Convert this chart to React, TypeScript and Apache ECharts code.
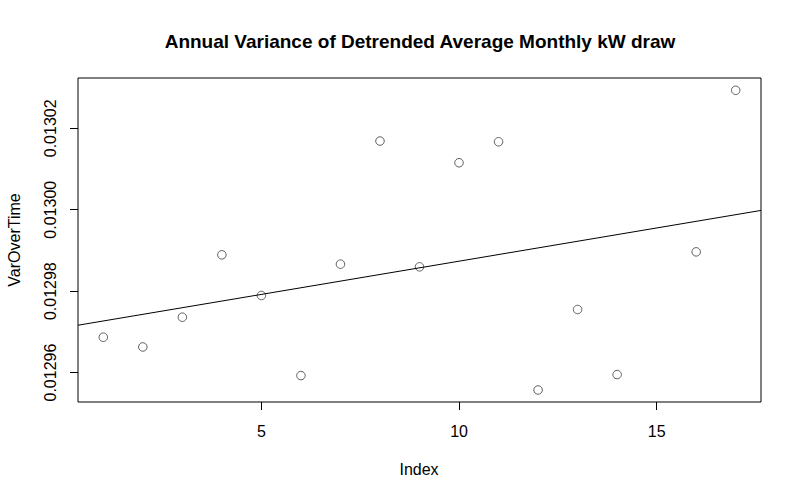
import React, { useEffect, useRef } from "react";
import * as echarts from "echarts";

const indexValues: number[] = [1, 2, 3, 4, 5, 6, 7, 8, 9, 10, 11, 12, 13, 14, 15, 16, 17];
const varOverTime: (number | null)[] = [
  0.01296868, 0.01296629, 0.0129736, 0.01298892, 0.01297893, 0.01295926,
  0.01298663, 0.01301687, 0.01298597, 0.01301154, 0.0130167, 0.01295572,
  0.01297549, 0.01295951, null, 0.01298965, 0.01302934,
];
const xTicks: number[] = [5, 10, 15];
const yTicks: number[] = [0.01296, 0.01298, 0.013, 0.01302];
const fitIntercept = 0.01297104;
const fitSlope = 1.632e-6;
const xRange: number[] = [0.36, 17.64];
const yRange: number[] = [0.01295277, 0.01303236];

const FONT = "Liberation Sans, Arial, Helvetica, sans-serif";

export default function App() {
  const ref = useRef<HTMLDivElement>(null);
  useEffect(() => {
    if (!ref.current) return;
    const chart = echarts.init(ref.current, undefined, { renderer: "svg" });
    const points = indexValues
      .map((x, i) => [x, varOverTime[i]])
      .filter((p) => p[1] !== null);
    const fit = xRange.map((x) => [x, fitIntercept + fitSlope * x]);
    chart.setOption({
      animation: false,
      backgroundColor: "#ffffff",
      grid: {
        left: 78,
        right: 39,
        top: 78,
        bottom: 98,
        show: true,
        borderColor: "#000",
        borderWidth: 1,
        backgroundColor: "transparent",
      },
      xAxis: {
        type: "value",
        min: xRange[0],
        max: xRange[1],
        axisLine: { show: false },
        splitLine: { show: false },
        axisTick: {
          show: true,
          customValues: xTicks,
          length: 8,
          lineStyle: { color: "#000" },
        },
        axisLabel: {
          customValues: xTicks,
          color: "#000",
          fontSize: 16,
          fontFamily: FONT,
          margin: 21,
        },
      },
      yAxis: {
        type: "value",
        min: yRange[0],
        max: yRange[1],
        axisLine: { show: false },
        splitLine: { show: false },
        axisTick: {
          show: true,
          customValues: yTicks,
          length: 8,
          lineStyle: { color: "#000" },
        },
        axisLabel: {
          customValues: yTicks,
          rotate: 90,
          color: "#000",
          fontSize: 16,
          fontFamily: FONT,
          margin: 20,
          formatter: (v: number) => v.toFixed(5),
        },
      },
      graphic: [
        {
          type: "text",
          x: 420,
          y: 41,
          style: {
            text: "Annual Variance of Detrended Average Monthly kW draw",
            fill: "#000",
            font: `bold 19px ${FONT}`,
            align: "center",
            verticalAlign: "middle",
          },
        },
        {
          type: "text",
          x: 419,
          y: 469,
          style: {
            text: "Index",
            fill: "#000",
            font: `16px ${FONT}`,
            align: "center",
            verticalAlign: "middle",
          },
        },
        {
          type: "text",
          x: 14,
          y: 240,
          rotation: Math.PI / 2,
          style: {
            text: "VarOverTime",
            fill: "#000",
            font: `16px ${FONT}`,
            align: "center",
            verticalAlign: "middle",
          },
        },
      ],
      series: [
        {
          type: "scatter",
          data: points,
          symbol: "circle",
          symbolSize: 8.5,
          itemStyle: { color: "rgba(0,0,0,0)", borderColor: "#222", borderWidth: 0.9 },
          silent: true,
        },
        {
          type: "line",
          data: fit,
          showSymbol: false,
          lineStyle: { color: "#000", width: 1 },
          silent: true,
        },
      ],
    });
    return () => chart.dispose();
  }, []);
  return (
    <div
      ref={ref}
      style={{ position: "absolute", left: 0, top: 0, width: 800, height: 500 }}
    />
  );
}
